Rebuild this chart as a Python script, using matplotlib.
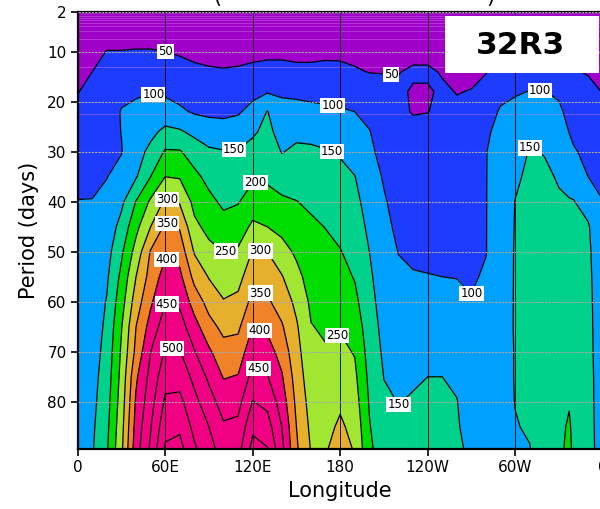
import matplotlib.pyplot as plt
import numpy as np
from matplotlib.patches import Rectangle

# period rows (days), top of the chart to bottom
periods = [2, 6, 10, 14, 18, 22, 26, 30, 35, 40, 45, 50, 55, 60, 65, 70, 75, 80, 85, 90]

# power per longitude column
lon000 = [20, 27, 35, 42, 49, 59, 69, 78, 90, 101, 104, 108, 111, 114, 118, 121, 125, 128, 132, 135]
lon010 = [20, 30, 40, 50, 58, 67, 75, 83, 93, 101, 106, 110, 115, 119, 124, 128, 133, 137, 142, 146]
lon020 = [22, 36, 51, 58, 66, 74, 81, 89, 99, 110, 121, 132, 143, 153, 160, 167, 174, 181, 188, 195]
lon030 = [22, 37, 51, 69, 87, 103, 101, 98, 116, 140, 166, 192, 212, 229, 247, 257, 265, 273, 282, 290]
lon040 = [22, 37, 52, 73, 95, 109, 120, 131, 146, 202, 236, 269, 300, 325, 350, 363, 392, 407, 419, 430]
lon050 = [22, 37, 52, 75, 98, 118, 138, 162, 200, 258, 300, 354, 369, 392, 419, 450, 466, 481, 497, 510]
lon060 = [22, 36, 50, 70, 92, 123, 161, 205, 250, 308, 359, 392, 421, 448, 477, 505, 532, 558, 584, 610]
lon070 = [22, 34, 46, 64, 84, 108, 156, 204, 246, 295, 345, 380, 412, 441, 472, 503, 532, 562, 591, 620]
lon080 = [22, 32, 43, 56, 76, 95, 138, 177, 212, 236, 261, 296, 335, 378, 419, 453, 487, 514, 536, 560]
lon090 = [22, 32, 42, 53, 72, 91, 123, 158, 186, 212, 236, 263, 297, 332, 367, 408, 440, 471, 500, 520]
lon100 = [22, 32, 41, 52, 71, 90, 119, 153, 172, 191, 217, 250, 276, 303, 337, 368, 397, 427, 457, 480]
lon110 = [22, 32, 42, 53, 74, 95, 124, 153, 175, 197, 226, 256, 283, 312, 341, 372, 403, 434, 462, 485]
lon120 = [22, 32, 42, 57, 87, 115, 143, 166, 193, 224, 259, 303, 333, 365, 400, 433, 467, 502, 540, 570]
lon130 = [22, 32, 43, 60, 96, 152, 163, 176, 192, 217, 250, 300, 328, 357, 390, 422, 453, 487, 521, 557]
lon140 = [22, 32, 43, 60, 94, 114, 131, 148, 178, 208, 236, 268, 303, 329, 355, 380, 405, 427, 450, 465]
lon150 = [22, 32, 42, 57, 90, 116, 139, 159, 180, 201, 222, 242, 264, 288, 306, 317, 328, 339, 350, 358]
lon160 = [22, 32, 42, 57, 86, 113, 138, 157, 175, 193, 207, 218, 230, 241, 252, 261, 270, 280, 289, 298]
lon170 = [22, 33, 43, 59, 84, 109, 132, 153, 168, 183, 199, 210, 221, 232, 243, 254, 265, 276, 286, 297]
lon180 = [22, 33, 43, 58, 82, 105, 126, 146, 161, 175, 188, 202, 216, 231, 246, 261, 277, 292, 308, 325]
lon190 = [22, 32, 42, 53, 77, 100, 116, 132, 151, 163, 174, 185, 197, 212, 229, 247, 260, 272, 285, 297]
lon200 = [22, 31, 40, 49, 67, 86, 102, 110, 120, 130, 140, 150, 158, 165, 173, 180, 188, 196, 203, 210]
lon210 = [22, 31, 40, 49, 58, 67, 76, 84, 96, 104, 110, 117, 123, 130, 136, 142, 149, 157, 166, 175]
lon220 = [22, 31, 40, 49, 55, 60, 66, 71, 78, 85, 92, 99, 107, 115, 124, 132, 141, 149, 157, 165]
lon230 = [22, 31, 42, 54, 47, 47, 64, 70, 76, 82, 89, 95, 102, 113, 124, 135, 146, 153, 159, 165]
lon240 = [22, 31, 42, 54, 47, 49, 64, 69, 75, 82, 88, 94, 101, 113, 126, 138, 150, 153, 157, 160]
lon250 = [22, 31, 39, 48, 54, 59, 64, 69, 75, 81, 88, 94, 100, 113, 126, 139, 150, 154, 157, 160]
lon260 = [22, 29, 36, 43, 49, 55, 61, 66, 73, 79, 86, 93, 99, 111, 122, 134, 145, 151, 153, 155]
lon270 = [22, 30, 37, 44, 51, 56, 61, 66, 72, 78, 84, 90, 96, 102, 109, 116, 123, 131, 138, 145]
lon280 = [22, 31, 40, 49, 58, 80, 95, 99, 99, 99, 99, 99, 104, 108, 111, 115, 119, 123, 126, 130]
lon290 = [22, 33, 43, 60, 88, 105, 110, 114, 118, 121, 124, 126, 128, 130, 131, 132, 133, 134, 135, 136]
lon300 = [22, 33, 43, 63, 97, 109, 120, 130, 142, 151, 152, 153, 153, 153, 153, 152, 152, 151, 148, 145]
lon310 = [22, 33, 43, 64, 101, 119, 137, 153, 160, 165, 168, 170, 170, 170, 168, 166, 163, 159, 154, 148]
lon320 = [22, 33, 43, 65, 102, 117, 133, 148, 158, 165, 170, 173, 175, 176, 177, 177, 177, 176, 175, 174]
lon330 = [22, 33, 43, 62, 92, 109, 120, 131, 146, 155, 162, 166, 169, 171, 172, 173, 174, 175, 176, 177]
lon337 = [22, 32, 42, 55, 73, 87, 99, 113, 134, 153, 159, 163, 166, 169, 171, 172, 175, 193, 212, 228]
lon340 = [22, 32, 42, 52, 65, 77, 90, 105, 129, 152, 158, 162, 165, 168, 170, 172, 173, 175, 176, 178]
lon350 = [22, 31, 39, 48, 58, 68, 78, 88, 100, 131, 155, 160, 163, 165, 165, 165, 165, 164, 163, 162]
lon360 = lon000

lons = [0, 10, 20, 30, 40, 50, 60, 70, 80, 90, 100, 110, 120, 130, 140, 150, 160, 170,
        180, 190, 200, 210, 220, 230, 240, 250, 260, 270, 280, 290, 300, 310, 320, 330,
        337, 340, 350, 360]
columns = [lon000, lon010, lon020, lon030, lon040, lon050, lon060, lon070, lon080, lon090,
           lon100, lon110, lon120, lon130, lon140, lon150, lon160, lon170, lon180, lon190,
           lon200, lon210, lon220, lon230, lon240, lon250, lon260, lon270, lon280, lon290,
           lon300, lon310, lon320, lon330, lon337, lon340, lon350, lon360]

fill_levels = [0, 50, 100, 150, 200, 250, 300, 350, 400, 2000]
fill_colors = ['#a000c8', '#1e3cff', '#00a0ff', '#00d28c', '#00dc00',
               '#a0e632', '#e6af2d', '#f08228', '#f00082']
line_levels = [50, 100, 150, 200, 250, 300, 350, 400, 450, 500, 550, 600]

# where the contour labels sit (lon, period)
label_spots = [(60, 10), (215, 14), (52, 18.3), (175, 20.3), (317, 17), (273, 60),
               (107, 29.7), (175, 29.7), (310, 27.5), (217, 83.5), (122, 36),
               (104, 52), (178, 66.7), (62, 39), (125, 50.7), (62, 43.7), (126, 57.7),
               (62, 51), (126, 65), (62, 59.7), (127, 72), (65, 68.3)]

# faint horizontal streaks of the original rendering
streak_periods = [2.3, 2.8, 3.2, 3.7, 4.2, 4.9, 5.8, 7.5, 13, 22.5]

xtick_pos = [0, 60, 120, 180, 240, 300, 360]
xtick_lab = ['0', '60E', '120E', '180', '120W', '60W', '0']
ytick_pos = [2, 10, 20, 30, 40, 50, 60, 70, 80]

field = np.column_stack([np.array(c, dtype=float) for c in columns])

fig = plt.figure(figsize=(6.0, 5.09), dpi=100)
ax = fig.add_axes([77.7 / 600, 1 - 449.3 / 509, 525 / 600, 437.6 / 509])

ax.contourf(lons, periods, field, levels=fill_levels, colors=fill_colors)
ax.hlines(streak_periods, 0, 360, colors='#c873e8', lw=0.6, alpha=0.55, zorder=1.5)
cs = ax.contour(lons, periods, field, levels=line_levels, colors='black', linewidths=0.9)
labels = ax.clabel(cs, fmt='%d', fontsize=8.5, inline=False, manual=label_spots)
for t in labels:
    t.set_rotation(0)
    t.set_bbox(dict(facecolor='white', edgecolor='none', pad=0.8))
    t.set_zorder(5)

ax.set_xlim(0, 360)
ax.set_ylim(89.5, 2)
ax.set_xticks(xtick_pos)
ax.set_xticklabels(xtick_lab)
ax.set_yticks(ytick_pos)

ax.set_axisbelow(False)
ax.yaxis.grid(True, color='#a8a8a8', lw=0.8, ls=(0, (2, 1)))
ax.xaxis.grid(True, color='black', lw=0.6)

ax.tick_params(direction='out', length=5, width=1.2, labelsize=11, pad=3)
for s in ax.spines.values():
    s.set_linewidth(1.6)

ax.set_xlabel('Longitude', fontsize=15, labelpad=4)
ax.set_ylabel('Period (days)', fontsize=15, labelpad=6)

# cropped title at the very top
fig.text(217 / 600, 1 - 3 / 509, '(', fontsize=15, ha='center', va='baseline')
fig.text(490 / 600, 1 - 3 / 509, ')', fontsize=15, ha='center', va='baseline')

# experiment tag
fig.add_artist(Rectangle((445 / 600, 1 - 73 / 509), 154 / 600, 57 / 509,
                         transform=fig.transFigure, facecolor='white',
                         edgecolor='none', zorder=10))
fig.text(521 / 600, 1 - 45 / 509, '32R3', fontsize=22.5, fontweight='bold',
         ha='center', va='center', zorder=11)

fig.savefig('out.png', dpi=100)
